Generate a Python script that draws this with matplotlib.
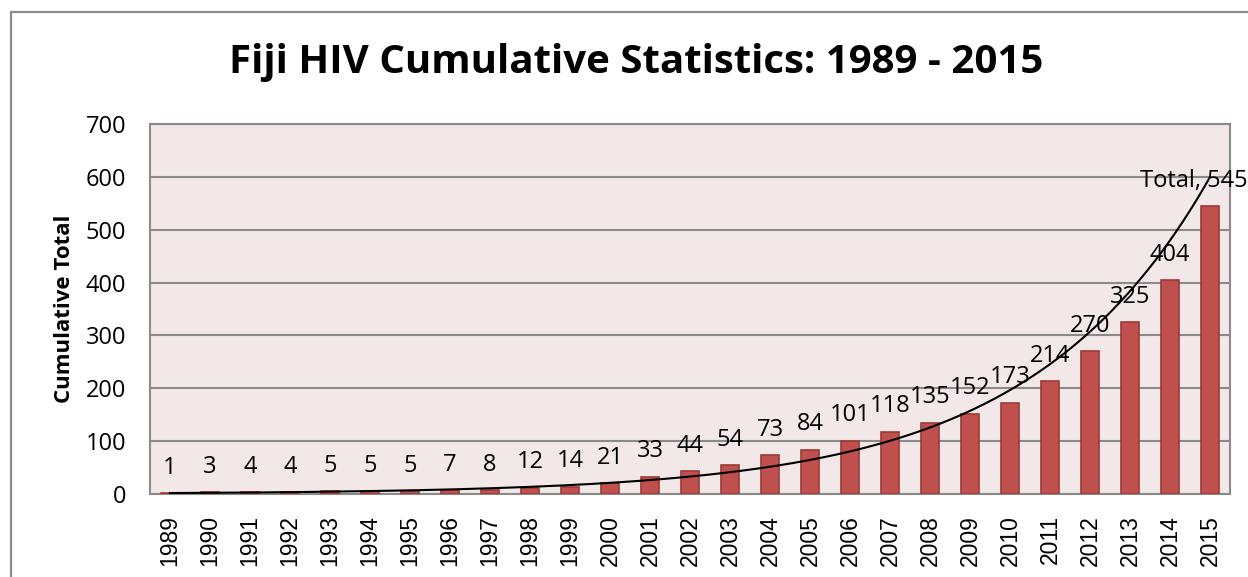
import numpy as np
import matplotlib
matplotlib.use("Agg")
import matplotlib.pyplot as plt
from matplotlib.patches import Rectangle

years = [str(y) for y in range(1989, 2016)]
totals = [1, 3, 4, 4, 5, 5, 5, 7, 8, 12, 14, 21, 33, 44, 54, 73, 84, 101, 118,
          135, 152, 173, 214, 270, 325, 404, 545]
title = "Fiji HIV Cumulative Statistics: 1989 - 2015"
ylabel = "Cumulative Total"
yticks = [0, 100, 200, 300, 400, 500, 600, 700]

W, H = 1248, 577
fig = plt.figure(figsize=(W / 100, H / 100), dpi=100)
fig.patch.set_facecolor("white")

# outer chart frame (extends past the image at right/bottom)
fig.add_artist(Rectangle((11 / W, -0.1), 1.2, 1.1 - 12 / H, transform=fig.transFigure,
                         fill=False, edgecolor="#8c8c8c", linewidth=1.6))

ax = fig.add_axes([150 / W, 1 - 494 / H, 1080 / W, 370 / H])
ax.set_facecolor("#F2E8E8")

x = np.arange(len(years))
ax.bar(x, totals, width=0.45, color="#C0504D", edgecolor="#9B3B39", linewidth=1.2, zorder=3)

# exponential trendline (least squares on log values, as Excel does)
b, lna = np.polyfit(x + 1, np.log(totals), 1)
xs = np.linspace(0, len(years) - 1, 300)
ax.plot(xs, np.exp(lna + b * (xs + 1)), color="black", linewidth=1.5, zorder=4)

lab_font = dict(family="Open Sans", fontsize=17, color="black")
for i, v in enumerate(totals):
    if i == len(totals) - 1:
        ax.annotate(f"Total, {v}", (i, v), xytext=(-11.5, 9.5), textcoords="offset points",
                    ha="center", va="bottom", annotation_clip=False, zorder=5, **lab_font)
    else:
        ax.annotate(str(v), (i, v), xytext=(0, 9.5), textcoords="offset points",
                    ha="center", va="bottom", zorder=5, **lab_font)

ax.set_xlim(-0.5, len(years) - 0.5)
ax.set_ylim(0, 700)
ax.set_yticks(yticks)
ax.set_yticklabels([str(t) for t in yticks], family="Open Sans", fontsize=17)
ax.set_xticks(x)
ax.set_xticklabels(years, rotation=90, family="Liberation Sans", fontsize=16.5)
ax.tick_params(axis="both", length=0)
ax.tick_params(axis="x", pad=15)
ax.tick_params(axis="y", pad=17)
ax.grid(axis="y", color="#8a8a8a", linewidth=1.5, zorder=1)
for s in ax.spines.values():
    s.set_color("#8a8a8a")
    s.set_linewidth(1.5)

ax.set_ylabel(ylabel, family="Open Sans", fontweight="bold", fontsize=16, labelpad=8)

fig.text(636 / W, 1 - 63 / H, title, ha="center", va="center",
         family="Open Sans", fontweight="bold", fontsize=29)

fig.savefig("out.png", dpi=100)
